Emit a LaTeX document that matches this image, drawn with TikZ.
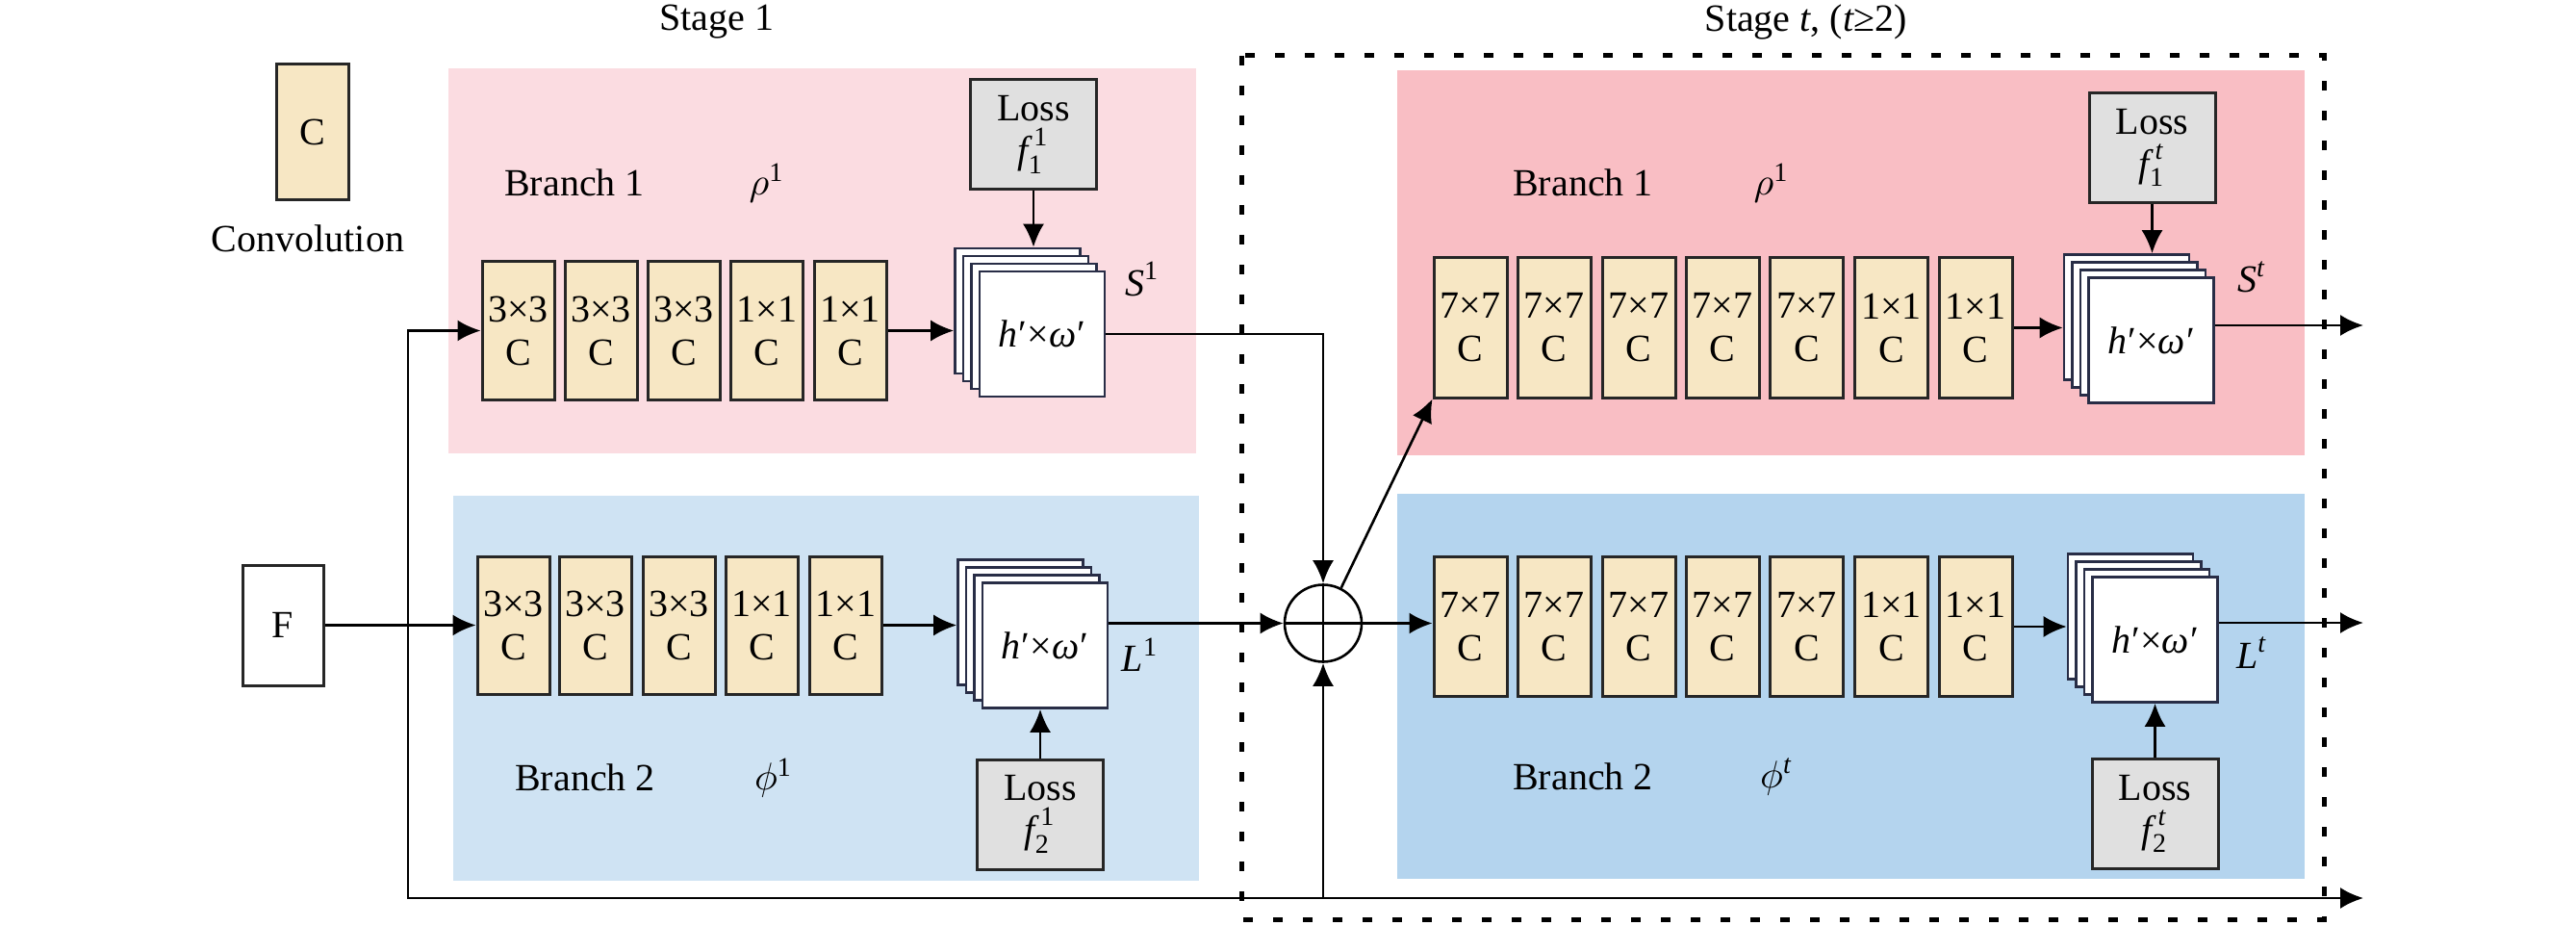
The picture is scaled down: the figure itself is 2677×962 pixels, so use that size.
\documentclass[tikz,border=0pt]{standalone}
\usepackage{fontspec}
\setmainfont{Liberation Serif}
\usepackage{amsmath}
\usetikzlibrary{arrows.meta,calc}
\definecolor{pinkA}{RGB}{251,220,225}
\definecolor{pinkB}{RGB}{249,190,196}
\definecolor{blueA}{RGB}{207,227,243}
\definecolor{blueB}{RGB}{180,212,238}
\definecolor{convc}{RGB}{247,231,196}
\definecolor{lossc}{RGB}{224,224,224}
\definecolor{frmc}{RGB}{40,45,70}
\newcommand{\hw}{\textit{h}\kern0.3pt′×\textit{ω}\kern0.3pt′}
\newcommand{\fstack}[3]{%
  \node[frm] (#1b) at (#2-25.5,#3-24) {};
  \node[frm] (#1m) at (#2-17,#3-16) {};
  \node[frm] (#1n) at (#2-8.5,#3-8) {};
  \node[frm] (#1) at (#2,#3) {\hw};
}
\begin{document}
\begin{tikzpicture}[x=0.25pt,y=-0.25pt,
  font=\fontsize{10}{12}\selectfont,
  conv/.style={draw=black!85, line width=0.75pt, fill=convc, minimum width=18.75pt, minimum height=35.75pt, inner sep=0pt, align=center, font=\fontsize{10}{11.25}\selectfont},
  frm/.style={draw=frmc, line width=0.65pt, fill=white, minimum width=32.5pt, minimum height=32.5pt, inner sep=0pt},
  lossbox/.style={draw=black!85, fill=lossc, line width=0.75pt, minimum width=32.75pt, minimum height=28.5pt, align=center, inner sep=0pt, font=\fontsize{10}{12}\selectfont},
  arr/.style={-{Latex[length=6pt,width=5.5pt]}, line width=0.65pt},
  ln/.style={line width=0.65pt},
  lbl/.style={inner sep=0pt}]
\useasboundingbox (0,0) rectangle (2677,962);
% backgrounds
\fill[pinkA] (466,71) rectangle (1243,471);
\fill[blueA] (471,515) rectangle (1246,915);
\fill[pinkB] (1452,73) rectangle (2395,473);
\fill[blueB] (1452,513) rectangle (2395,913);
\draw[line width=1.25pt, dash pattern=on 2.6pt off 5.15pt] (1290,58) rectangle (2415,955);
% titles
\node[lbl] (st1) at (745,23) {Stage 1};
\node[lbl] (stt) at (1877,23) {Stage \textit{t}, (\textit{t}≥2)};
% legend
\node[conv, minimum height=35.25pt] (leg) at (324.5,137.5) {C};
\node[lbl] (legt) at (320,248) {Convolution};
% branch labels
\node[lbl] (br1a) at (597,190) {Branch 1};
\node[lbl] (rho1) at (797,190) {$\rho^{\text{1}}$};
\node[lbl] (br2a) at (608,808) {Branch 2};
\node[lbl] (phi1) at (804,808) {$\phi^{\text{1}}$};
\node[lbl] (br1b) at (1645,190) {Branch 1};
\node[lbl] (rhot) at (1841,190) {$\rho^{\text{1}}$};
\node[lbl] (br2b) at (1645,807) {Branch 2};
\node[lbl] (phit) at (1846,807) {$\phi^{\textit{t}}$};
% conv boxes stage 1
\node[conv] (a1c1) at (538.5,343.5) {3×3\\C};
\node[conv] (a1c2) at (624.5,343.5) {3×3\\C};
\node[conv] (a1c3) at (710.5,343.5) {3×3\\C};
\node[conv] (a1c4) at (797,343.5) {1×1\\C};
\node[conv] (a1c5) at (883.5,343.5) {1×1\\C};
\node[conv] (b1c1) at (533.5,649.5) {3×3\\C};
\node[conv] (b1c2) at (618.5,649.5) {3×3\\C};
\node[conv] (b1c3) at (705.5,649.5) {3×3\\C};
\node[conv] (b1c4) at (791.5,649.5) {1×1\\C};
\node[conv] (b1c5) at (879,649.5) {1×1\\C};
% conv boxes stage t
\tikzset{convt/.style={conv, minimum width=19pt, minimum height=36.25pt}}
\node[convt] (a2c1) at (1528,340.5) {7×7\\C};
\node[convt] (a2c2) at (1615,340.5) {7×7\\C};
\node[convt] (a2c3) at (1703,340.5) {7×7\\C};
\node[convt] (a2c4) at (1790,340.5) {7×7\\C};
\node[convt] (a2c5) at (1877.5,340.5) {7×7\\C};
\node[convt] (a2c6) at (1965.5,340.5) {1×1\\C};
\node[convt] (a2c7) at (2053,340.5) {1×1\\C};
\node[convt] (b2c1) at (1528,651) {7×7\\C};
\node[convt] (b2c2) at (1615,651) {7×7\\C};
\node[convt] (b2c3) at (1703,651) {7×7\\C};
\node[convt] (b2c4) at (1790,651) {7×7\\C};
\node[convt] (b2c5) at (1877.5,651) {7×7\\C};
\node[convt] (b2c6) at (1965.5,651) {1×1\\C};
\node[convt] (b2c7) at (2053,651) {1×1\\C};
% frame stacks
\fstack{S1}{1083}{347}
\fstack{L1}{1086}{670.5}
\fstack{St}{2235.5}{353.5}
\fstack{Lt}{2239.5}{664.5}
% loss boxes
\node[lossbox] (a1loss) at (1074,140) {Loss\\[-1pt]$\textit{f}^{\,\text{1}}_{\text{1}}$};
\node[lossbox] (b1loss) at (1081,846) {Loss\\[-1pt]$\textit{f}^{\,\text{1}}_{\text{2}}$};
\node[lossbox] (a2loss) at (2236.5,153.5) {Loss\\[-1pt]$\textit{f}^{\,\textit{t}}_{\text{1}}$};
\node[lossbox] (b2loss) at (2239.5,845.5) {Loss\\[-1pt]$\textit{f}^{\,\textit{t}}_{\text{2}}$};
% output labels
\node[lbl] (lS1) at (1187,290) {$\textit{S}^{\text{1}}$};
\node[lbl] (lL1) at (1185,680) {$\textit{L}^{\text{1}}$};
\node[lbl] (lSt) at (2340,288) {$\textit{S}^{\textit{t}}$};
\node[lbl] (lLt) at (2340,678) {$\textit{L}^{\textit{t}}$};
% input and sum
\node[draw=black!85, line width=0.75pt, fill=white, minimum width=21pt, minimum height=31.25pt, inner sep=0pt] (F) at (294,649.5) {F};
\node[draw, circle, line width=0.65pt, minimum size=20pt, inner sep=0pt] (plus) at (1375,647.5) {};
\draw[ln] (plus.west) -- (plus.east) (plus.north) -- (plus.south);
% coordinates
\coordinate (J) at (424,649.5);
\coordinate (BL) at (424,933);
\coordinate (BM) at (1375,933);
\coordinate (BR) at (2456,933);
\coordinate (oS) at (2456,338);
\coordinate (oL) at (2456,647);
% connectors
\draw[arr] (F.east) -- (b1c1.west);
\draw[arr] (J) |- (a1c1.west);
\draw[arr] (J) -- (BL) -- (BR);
\draw[arr] (BM) -- (plus.south);
\draw[arr] (a1c5.east) -- (a1c5.east -| S1b.west);
\draw[arr] (a1loss.south) -- (a1loss.south |- S1b.north);
\draw[arr] (b1c5.east) -- (b1c5.east -| L1b.west);
\draw[arr] (b1loss.north) -- (b1loss.north |- L1.south);
\draw[arr] (S1.east) -| (plus.north);
\draw[arr] (plus -| L1.east) -- (plus.west);
\draw[arr] (plus.east) -- (plus.east -| b2c1.west);
\draw[arr] (plus.63.9) -- (a2c1.south west);
\draw[arr] (a2c7.east) -- (a2c7.east -| Stb.west);
\draw[arr] (a2loss.south) -- (a2loss.south |- Stb.north);
\draw[arr] (b2c7.east) -- (b2c7.east -| Ltb.west);
\draw[arr] (b2loss.north) -- (b2loss.north |- Lt.south);
\draw[arr] (oS -| St.east) -- (oS);
\draw[arr] (oL -| Lt.east) -- (oL);
\end{tikzpicture}
\end{document}
